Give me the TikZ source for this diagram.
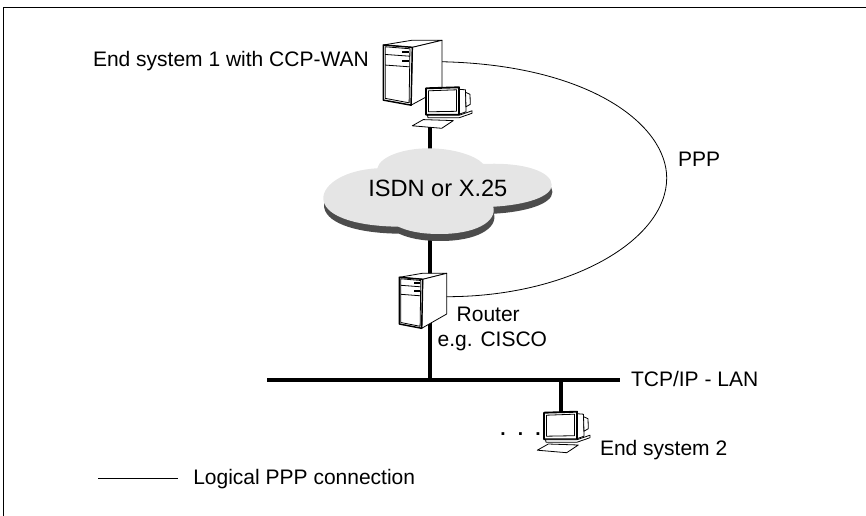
\documentclass[tikz,border=0pt]{standalone}
\usepackage{fontspec}
\setmainfont{Liberation Sans}
\usetikzlibrary{calc}
\def\totalwidth{866}
\def\totalheight{516}
\def\cloudpath{(377.3,168.3) .. controls (380,156) and (405,148.3) .. (428.3,148.3)
        .. controls (452,148.3) and (475,155) .. (483.3,164)
        .. controls (525,162) and (551.7,172) .. (551.7,185)
        .. controls (551.7,197) and (525,205) .. (493.3,206.7)
        .. controls (497,222) and (475,234) .. (440,234)
        .. controls (420,234) and (408,231) .. (398.3,226.7)
        .. controls (350,226) and (323.3,214) .. (323.3,198.3)
        .. controls (323.3,184) and (345,170) .. (377.3,168.3) -- cycle}
\tikzstyle{caption}  = [anchor=base west,inner sep=0pt,outer sep=0pt,
                        font=\fontsize{15.75}{18}\selectfont]
\tikzstyle{bigtext}  = [anchor=base west,inner sep=0pt,outer sep=0pt,
                        font=\fontsize{17.7}{20}\selectfont]
\tikzstyle{frame}    = [line width=1.1pt]
\tikzstyle{cable}    = [line width=3pt]
\tikzstyle{logical}  = [line width=0.6pt]
\tikzstyle{part}     = [draw,fill=white,line width=0.6pt,line join=round]
\tikzstyle{heavy}    = [draw,line width=1.1pt,line join=round]
\tikzset{pics/tower/.style={code={
    \draw[part] (0,0) -- (23,-4) -- (47.4,-4) -- (23.4,2) -- cycle;
    \draw[part] (23.4,2) -- (47.4,-4) -- (47.4,36.7) -- (22.4,51) -- cycle;
    \draw[heavy,fill=white] (0,0) -- (23.4,2) -- (22.4,51) -- (0,46.7) -- cycle;
    \draw[part] (1.5,1.5) -- (21.5,3.2) -- (20.8,49) -- (1.5,45.2) -- cycle;
    \draw[logical] (1.5,8) -- (21.4,9.5);
    \draw[logical] (1.5,17) -- (21.2,18.5);
    \fill (15,5) rectangle (21,7.2);
    \fill (15,12.5) rectangle (21,14.7);
    \coordinate (-port) at (47.4,#1);
}}}
\tikzset{pics/monitor/.style={code={
    % back of the housing
    \draw[part] (33,1) -- (39.5,1.5) -- (40,23.5) -- (33,26) -- cycle;
    \draw[part] (39.5,4) -- (44,6) -- (44.3,16) -- (40,18.5) -- cycle;
    % front and screen
    \draw[heavy,fill=white,line width=1.4pt] (0,0) -- (33,-1) -- (33,26.5) -- (0,26.5) -- cycle;
    \draw[part] (2.5,2.5) -- (30.5,1.5) -- (30.5,23) -- (2.5,23.5) -- cycle;
    % base
    \draw[part] (1.5,27) -- (33,27) -- (46,22.5) -- (46,25) -- (33,29.5) -- (2,29.5) -- cycle;
    % keyboard
    \draw[part,shift={(#1,0)}] (-6.7,37.5) -- (4.3,31.3) -- (34.3,32.3) -- (22.7,40) -- cycle;
    \coordinate (-top) at (17,0);
    \coordinate (-keys) at ($(10.5,38.5)+(#1,0)$);
}}}

\begin{document}
\begin{tikzpicture}[x=0.75pt,y=-0.75pt]
    \useasboundingbox (0,0) rectangle (\totalwidth,\totalheight);

    % Frame
    \coordinate (corner) at (3.5,7.5);
    \draw[frame] (corner |- 0,\totalheight) -- (corner) -- (\totalwidth,7.5);

    % Named points of the network
    \coordinate (lanL) at (267,380);
    \coordinate (lanR) at (620,380);
    \coordinate (lanB) at (561,380);
    \coordinate (peak) at (666.7,178);
    \coordinate (legL) at (98,478);
    \coordinate (legR) at (178,478);

    % End system 1
    \pic[xscale=1.24,yscale=1.18] (tower) at (383.3,45) {tower=14.2};
    \pic (mona) at (426,88.3) {monitor=-7};

    % LAN and main cable
    \draw[cable] (lanL) -- (lanR);
    \draw[cable] (mona-keys) -- (mona-keys |- lanL);

    % Router
    \pic (router) at (399.3,277.3) {tower=19.4};

    % Cloud
    \fill[black!70,shift={(0.7,7)}] \cloudpath;
    \fill[black!10] \cloudpath;
    \node[bigtext] (cloudtext) at (368.3,196.7) {ISDN or X.25};

    % End system 2
    \pic (monb) at (544,412.7) {monitor=0};
    \draw[cable] (lanB) -- (monb-top);

    % PPP connection
    \draw[logical] (tower-port) .. controls (590,65) and (666.7,125) .. (peak)
        .. controls (666.7,240) and (570,296.7) .. (router-port);

    % Labels
    \node[caption] (esa)    at (93,67)       {End system 1 with CCP-WAN};
    \node[caption] (ppp)    at (678,166.7)   {PPP};
    \node[caption] (rtr)    at (456.7,321.7) {Router};
    \node[caption] (cisco)  at (437.7,346.7) {e.g. CISCO};
    \node[caption] (lan)    at (631,386.7)   {TCP/IP - LAN};
    \node[caption] (esb)    at (600,455)     {End system 2};
    \node[caption] (legend) at (193.3,484)   {Logical PPP connection};
    \node[caption,font=\fontsize{14.35}{16}\selectfont\bfseries] (dots) at (500.3,435)
        {.\hspace{9.2pt}.\hspace{9.2pt}.};

    % Legend
    \draw[logical] (legL) -- (legR);
\end{tikzpicture}
\end{document}
